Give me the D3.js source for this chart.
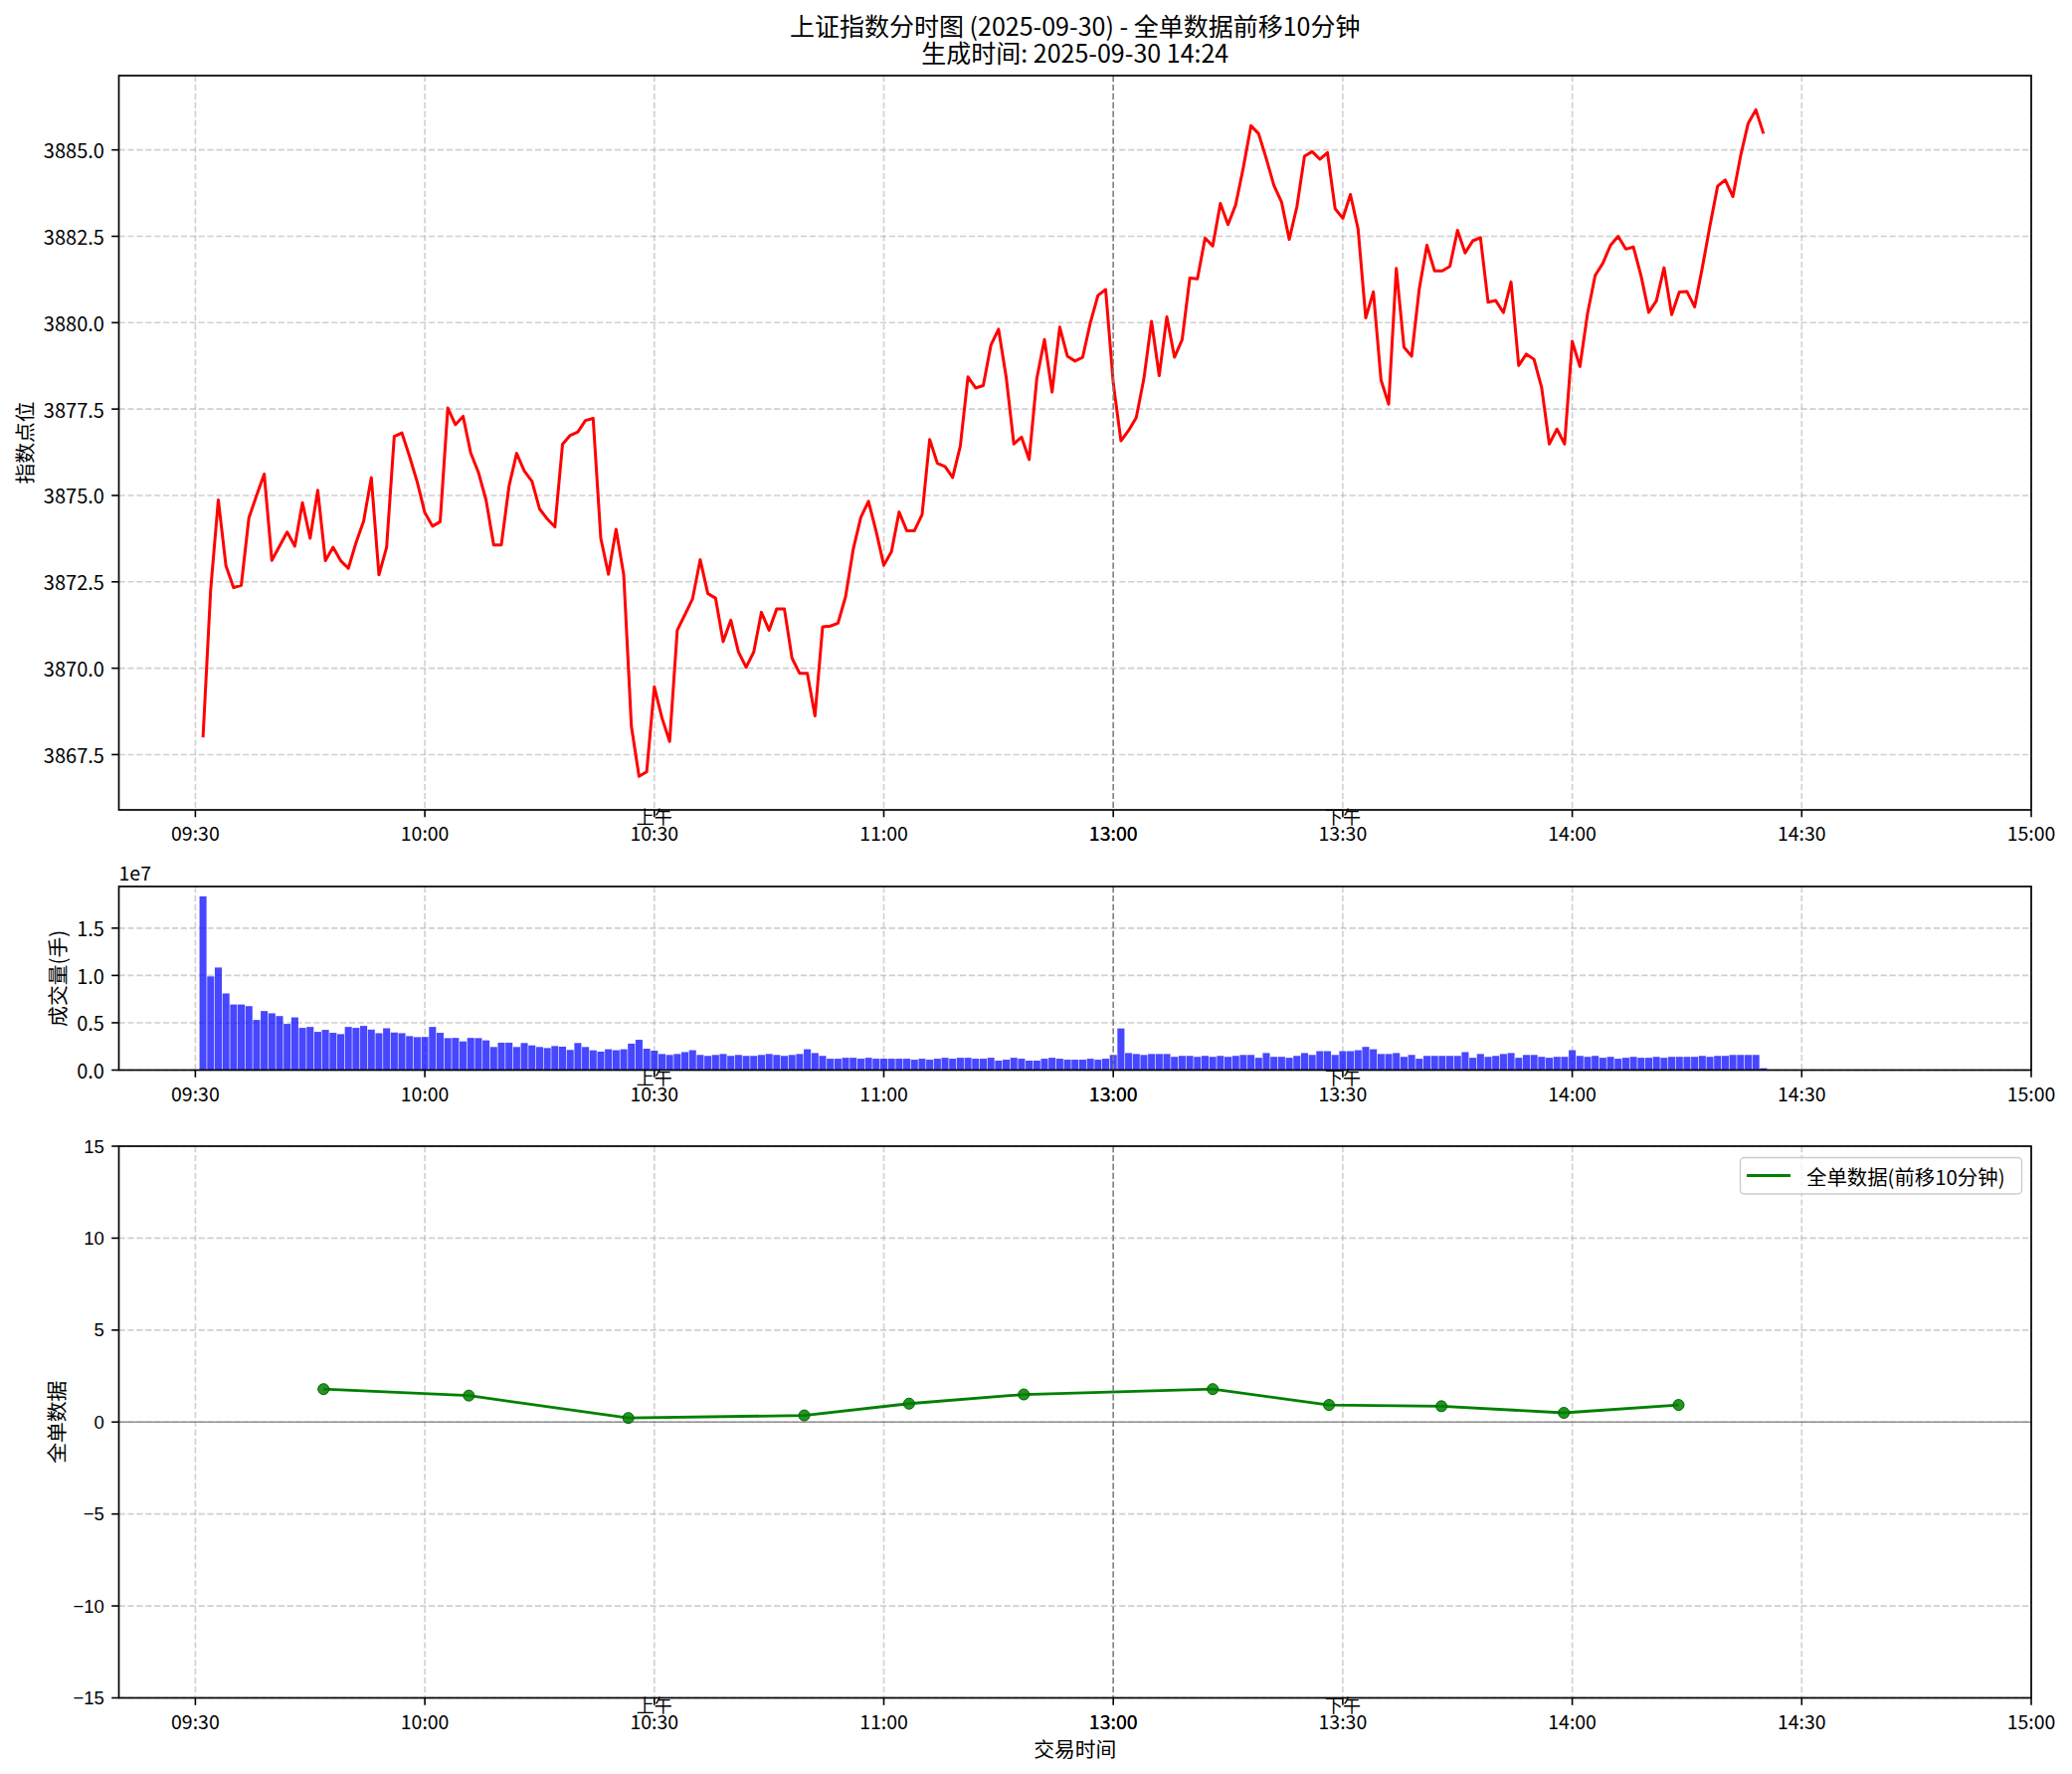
<!DOCTYPE html>
<html><head><meta charset="utf-8">
<script src="https://cdn.jsdelivr.net/npm/d3@7"></script>
<style>body{margin:0;background:#fff;} svg{display:block;}</style>
</head><body><svg id="c" width="2083" height="1783"></svg>
<script>
// ---------- data ----------
const timeTicks = [0, 30, 60, 90, 120, 150, 180, 210, 240];
const timeLabels = ["09:30", "10:00", "10:30", "11:00", "13:00", "13:30", "14:00", "14:30", "15:00"];
const sessionMarks = [60, 150];
const sessionLabels = ["上午", "下午"];
const firstMinute = 1;
const priceValues = [
3868.0,3872.27,3874.87,3872.96,3872.33,3872.4,3874.35,3875.0,3875.62,3873.12,
3873.53,3873.94,3873.53,3874.79,3873.76,3875.15,3873.11,3873.5,3873.11,3872.89,
3873.63,3874.26,3875.52,3872.70,3873.5,3876.71,3876.81,3876.13,3875.39,3874.5,
3874.11,3874.24,3877.53,3877.05,3877.29,3876.23,3875.67,3874.87,3873.57,3873.57,
3875.26,3876.22,3875.71,3875.41,3874.61,3874.32,3874.09,3876.48,3876.74,3876.84,
3877.17,3877.23,3873.76,3872.72,3874.02,3872.70,3868.32,3866.87,3867.0,3869.46,
3868.56,3867.88,3871.10,3871.55,3872.01,3873.14,3872.16,3872.03,3870.77,3871.39,
3870.47,3870.03,3870.47,3871.62,3871.10,3871.72,3871.72,3870.29,3869.85,3869.85,
3868.62,3871.20,3871.22,3871.30,3872.07,3873.44,3874.37,3874.83,3873.96,3872.98,
3873.37,3874.52,3873.98,3873.98,3874.44,3876.62,3875.93,3875.84,3875.52,3876.43,
3878.43,3878.11,3878.18,3879.35,3879.81,3878.42,3876.49,3876.69,3876.04,3878.38,
3879.51,3877.99,3879.87,3879.03,3878.89,3879.0,3880.0,3880.79,3880.96,3878.25,
3876.58,3876.88,3877.25,3878.38,3880.04,3878.47,3880.17,3879.0,3879.51,3881.29,
3881.27,3882.45,3882.22,3883.45,3882.84,3883.41,3884.49,3885.70,3885.47,3884.75,
3883.97,3883.49,3882.41,3883.35,3884.82,3884.95,3884.73,3884.92,3883.30,3883.02,
3883.71,3882.71,3880.14,3880.89,3878.34,3877.64,3881.57,3879.29,3879.03,3880.98,
3882.24,3881.50,3881.50,3881.63,3882.67,3882.02,3882.37,3882.46,3880.59,3880.64,
3880.29,3881.18,3878.76,3879.09,3878.94,3878.12,3876.49,3876.92,3876.49,3879.46,
3878.73,3880.27,3881.37,3881.72,3882.24,3882.50,3882.13,3882.19,3881.35,3880.30,
3880.63,3881.59,3880.23,3880.89,3880.90,3880.46,3881.59,3882.80,3883.95,3884.13,
3883.65,3884.82,3885.77,3886.16,3885.47
];
// volume in units of 1e7 手
const volumeValues = [
1.836,0.99,1.084,0.81,0.693,0.693,0.676,0.53,0.624,0.60,
0.571,0.488,0.557,0.446,0.456,0.404,0.425,0.394,0.38,0.456,
0.446,0.467,0.428,0.39,0.442,0.397,0.39,0.359,0.348,0.35,
0.456,0.394,0.338,0.34,0.303,0.34,0.338,0.314,0.244,0.289,
0.289,0.244,0.286,0.261,0.244,0.233,0.254,0.247,0.213,0.286,
0.244,0.209,0.195,0.22,0.21,0.22,0.279,0.32,0.226,0.205,
0.17,0.16,0.17,0.19,0.21,0.16,0.15,0.16,0.17,0.15,
0.16,0.15,0.15,0.16,0.17,0.16,0.15,0.16,0.17,0.22,
0.18,0.15,0.12,0.12,0.13,0.13,0.12,0.13,0.12,0.12,
0.12,0.12,0.12,0.11,0.12,0.11,0.12,0.13,0.12,0.13,
0.13,0.12,0.12,0.13,0.10,0.11,0.13,0.12,0.10,0.10,
0.12,0.13,0.12,0.11,0.11,0.11,0.12,0.11,0.12,0.16,
0.44,0.18,0.17,0.16,0.17,0.17,0.17,0.14,0.15,0.15,
0.14,0.15,0.14,0.15,0.14,0.15,0.16,0.16,0.13,0.18,
0.14,0.14,0.13,0.15,0.18,0.16,0.20,0.20,0.16,0.20,
0.20,0.21,0.245,0.22,0.17,0.17,0.18,0.14,0.16,0.12,
0.15,0.15,0.15,0.15,0.15,0.19,0.13,0.17,0.14,0.15,
0.17,0.18,0.13,0.16,0.16,0.14,0.13,0.14,0.14,0.21,
0.15,0.14,0.15,0.13,0.14,0.12,0.13,0.14,0.13,0.13,
0.14,0.13,0.14,0.14,0.14,0.14,0.15,0.14,0.15,0.15,
0.16,0.16,0.16,0.16,0.02
];
const flowMinutes = [16.75, 35.75, 56.6, 79.6, 93.3, 108.3, 133, 148.2, 162.9, 178.9, 193.9];
const flowValues = [1.79, 1.44, 0.22, 0.36, 1.0, 1.5, 1.79, 0.93, 0.86, 0.5, 0.93];
const priceTicks = [3867.5, 3870.0, 3872.5, 3875.0, 3877.5, 3880.0, 3882.5, 3885.0];
const volumeTicks = [0, 0.5, 1.0, 1.5];
const flowTicks = [-15, -10, -5, 0, 5, 10, 15];

// ---------- layout ----------
const W = 2083, H = 1783;
const L = 119.5, R = 2042;
const CJK = "'Noto Sans CJK SC','Noto Sans CJK JP',sans-serif";
const LAT = "'Liberation Sans',Arial,sans-serif";
const svg = d3.select("#c");
svg.append("rect").attr("width", W).attr("height", H).attr("fill", "#fff");

const x = d3.scaleLinear().domain([-10, 240]).range([L, R]);

const panels = [
  {top: 76, bottom: 814, domain: [3865.9, 3887.15], ticks: priceTicks, fmt: d => d.toFixed(1), font: CJK, label: "指数点位", labelX: 24},
  {top: 891, bottom: 1075.5, domain: [0, 1.94], ticks: volumeTicks, fmt: d => d.toFixed(1), font: CJK, label: "成交量(手)", labelX: 57},
  {top: 1152, bottom: 1706.5, domain: [-15, 15], ticks: flowTicks, fmt: d => (d < 0 ? "\u2212" + Math.abs(d) : "" + d), font: LAT, label: "全单数据", labelX: 56}
];
panels.forEach(p => { p.y = d3.scaleLinear().domain(p.domain).range([p.bottom, p.top]); });

const gridStyle = s => s.attr("stroke", "#b0b0b0").attr("stroke-opacity", 0.6)
  .attr("stroke-width", 1.6).attr("stroke-dasharray", "6.2,2.7");

panels.forEach((p, i) => {
  const g = svg.append("g");
  const clipId = "clip" + i;
  svg.append("clipPath").attr("id", clipId).append("rect")
    .attr("x", L).attr("y", p.top).attr("width", R - L).attr("height", p.bottom - p.top);
  g.selectAll(".vg").data(timeTicks).join("line")
    .attr("x1", d => x(d)).attr("x2", d => x(d)).attr("y1", p.top).attr("y2", p.bottom).call(gridStyle);
  g.selectAll(".hg").data(p.ticks).join("line")
    .attr("x1", L).attr("x2", R).attr("y1", d => p.y(d)).attr("y2", d => p.y(d)).call(gridStyle);
  p.g = g; p.clip = "url(#" + clipId + ")";
});

// ---- price line ----
const P = panels[0];
P.g.append("path").attr("clip-path", P.clip)
  .attr("d", d3.line().x((d, i) => x(firstMinute + i)).y(d => P.y(d))(priceValues))
  .attr("fill", "none").attr("stroke", "#ff0000").attr("stroke-width", 3).attr("stroke-linejoin", "round");

// ---- volume bars ----
const V = panels[1];
const bw = x(0.92) - x(0);
V.g.append("g").attr("clip-path", V.clip).selectAll("rect").data(volumeValues).join("rect")
  .attr("x", (d, i) => x(firstMinute + i) - bw / 2).attr("width", bw)
  .attr("y", d => V.y(d)).attr("height", d => V.y(0) - V.y(d))
  .attr("fill", "#0000ff").attr("fill-opacity", 0.72);
svg.append("text").attr("x", L).attr("y", 885).attr("font-family", CJK).attr("font-size", 19.5)
  .attr("fill", "#000").text("1e7");

// ---- flow line ----
const F = panels[2];
F.g.append("line").attr("x1", L).attr("x2", R).attr("y1", F.y(0)).attr("y2", F.y(0))
  .attr("stroke", "#808080").attr("stroke-width", 1.6).attr("stroke-opacity", 0.85);
const flowPts = flowMinutes.map((m, i) => [m, flowValues[i]]);
F.g.append("path").attr("clip-path", F.clip)
  .attr("d", d3.line().x(d => x(d[0])).y(d => F.y(d[1]))(flowPts))
  .attr("fill", "none").attr("stroke", "#008000").attr("stroke-width", 2.8);
F.g.selectAll("circle").data(flowPts).join("circle")
  .attr("cx", d => x(d[0])).attr("cy", d => F.y(d[1])).attr("r", 5.5)
  .attr("fill", "#008000").attr("fill-opacity", 0.85).attr("stroke", "#006400").attr("stroke-width", 1);

// legend
const lg = svg.append("g");
lg.append("rect").attr("x", 1749.5).attr("y", 1163.5).attr("width", 283).attr("height", 36.5).attr("rx", 4)
  .attr("fill", "#fff").attr("fill-opacity", 0.8).attr("stroke", "#cccccc").attr("stroke-width", 1.4);
lg.append("line").attr("x1", 1756).attr("x2", 1800).attr("y1", 1181.5).attr("y2", 1181.5)
  .attr("stroke", "#008000").attr("stroke-width", 2.8);
lg.append("text").attr("x", 1816).attr("y", 1182).attr("dominant-baseline", "central")
  .attr("font-family", CJK).attr("font-size", 20.4).attr("fill", "#000").text("全单数据(前移10分钟)");

// ---- 13:00 divider, axes, ticks, labels ----
panels.forEach(p => {
  const g = svg.append("g");
  g.append("line").attr("x1", x(120)).attr("x2", x(120)).attr("y1", p.top).attr("y2", p.bottom)
    .attr("stroke", "#808080").attr("stroke-width", 1.5).attr("stroke-dasharray", "6.2,2.7");
  g.selectAll(".xt").data(timeTicks).join("line")
    .attr("x1", d => x(d)).attr("x2", d => x(d)).attr("y1", p.bottom).attr("y2", p.bottom + 7.3)
    .attr("stroke", "#000").attr("stroke-width", 1.6);
  g.selectAll(".xl").data(timeTicks).join("text")
    .attr("x", d => x(d)).attr("y", p.bottom + 31).attr("text-anchor", "middle")
    .attr("font-family", CJK).attr("font-size", 19.5).attr("fill", "#000")
    .text((d, i) => timeLabels[i]);
  g.append("text").attr("x", x(120)).attr("y", p.bottom + 31).attr("text-anchor", "middle")
    .attr("font-family", CJK).attr("font-size", 19.5).attr("fill", "#000").text(timeLabels[4]);
  g.selectAll(".sl").data(sessionMarks).join("text")
    .attr("x", d => x(d)).attr("y", p.bottom + 14).attr("text-anchor", "middle")
    .attr("font-family", CJK).attr("font-size", 18).attr("fill", "#000")
    .text((d, i) => sessionLabels[i]);
  g.selectAll(".yt").data(p.ticks).join("line")
    .attr("x1", L - 7.3).attr("x2", L).attr("y1", d => p.y(d)).attr("y2", d => p.y(d))
    .attr("stroke", "#000").attr("stroke-width", 1.6);
  g.selectAll(".yl").data(p.ticks).join("text")
    .attr("x", L - 14.6).attr("y", d => p.y(d)).attr("text-anchor", "end").attr("dominant-baseline", "central")
    .attr("font-family", p.font).attr("font-size", p.font === LAT ? 18.5 : 20).attr("fill", "#000")
    .text(p.fmt);
  g.append("text").attr("transform", `translate(${p.labelX},${(p.top + p.bottom) / 2}) rotate(-90)`)
    .attr("text-anchor", "middle").attr("dominant-baseline", "central")
    .attr("font-family", CJK).attr("font-size", 20.8).attr("fill", "#000").text(p.label);
  g.append("rect").attr("x", L).attr("y", p.top).attr("width", R - L).attr("height", p.bottom - p.top)
    .attr("fill", "none").attr("stroke", "#000").attr("stroke-width", 1.7);
});

svg.append("text").attr("x", (L + R) / 2).attr("y", 1766).attr("text-anchor", "middle")
  .attr("font-family", CJK).attr("font-size", 20.8).attr("fill", "#000").text("交易时间");

svg.append("text").attr("x", (L + R) / 2).attr("y", 36).attr("text-anchor", "middle")
  .attr("font-family", CJK).attr("font-size", 25).attr("fill", "#000")
  .text("上证指数分时图 (2025-09-30) - 全单数据前移10分钟");
svg.append("text").attr("x", (L + R) / 2).attr("y", 63).attr("text-anchor", "middle")
  .attr("font-family", CJK).attr("font-size", 25).attr("fill", "#000")
  .text("生成时间: 2025-09-30 14:24");
</script></body></html>
